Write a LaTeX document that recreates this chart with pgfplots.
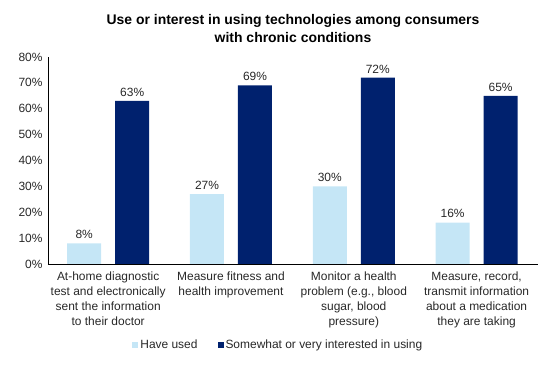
\documentclass[border=0pt]{standalone}
\usepackage{pgfplots}
\pgfplotsset{compat=1.18}
\usepackage{fontspec}
\setmainfont{Liberation Sans}
\definecolor{lightb}{RGB}{197,230,246}
\definecolor{darkb}{RGB}{0,33,110}
\definecolor{txt}{RGB}{40,40,40}
\begin{document}
\begin{tikzpicture}
\path[use as bounding box] (0,0) rectangle (550bp,365bp);
\begin{axis}[
  at={(48bp,101bp)}, anchor=south west,
  scale only axis, width=490bp, height=207bp,
  ybar, bar width=34bp,
  xmin=-0.49, xmax=3.5, ymin=0, ymax=80,
  ytick={0,10,...,80},
  yticklabel={\pgfmathprintnumber{\tick}\%},
  /pgf/number format/assume math mode=true,
  xtick={0,1,2,3},
  xticklabels={{At-home diagnostic\\test and electronically\\sent the information\\to their doctor},{Measure fitness and\\health improvement},{Monitor a health\\problem (e.g., blood\\sugar, blood\\pressure)},{Measure, record,\\transmit information\\about a medication\\they are taking}},
  xticklabel style={align=center, font=\fontsize{12}{15}\selectfont, text=txt, yshift=-4bp},
  yticklabel style={font=\fontsize{12}{14}\selectfont, text=txt, xshift=-2bp},
  major tick length=0pt,
  axis x line*=bottom, axis y line*=left,
  axis line style={black, line width=0.8pt},
  nodes near coords={\pgfmathprintnumber{\pgfplotspointmeta}\%},
  nodes near coords style={font=\fontsize{12}{14}\selectfont, text=txt, yshift=1bp},
  title={Use or interest in using technologies among consumers\\with chronic conditions},
  title style={align=center, font=\bfseries\fontsize{14}{18}\selectfont, yshift=5bp},
  legend style={at={(0.47,-0.39)}, anchor=center, draw=none, legend columns=2,
    font=\fontsize{12}{14}\selectfont, text=txt,
    /tikz/every even column/.append style={column sep=18bp}},
  legend image code/.code={\fill[#1] (0bp,-3bp) rectangle (6bp,3bp);},
]
\addplot[fill=lightb, draw=none, bar shift=-24bp] coordinates {(0,8) (1,27) (2,30) (3,16)};
\addplot[fill=darkb, draw=none, bar shift=24bp] coordinates {(0,63) (1,69) (2,72) (3,65)};
\legend{Have used, Somewhat or very interested in using}
\end{axis}
\end{tikzpicture}
\end{document}
